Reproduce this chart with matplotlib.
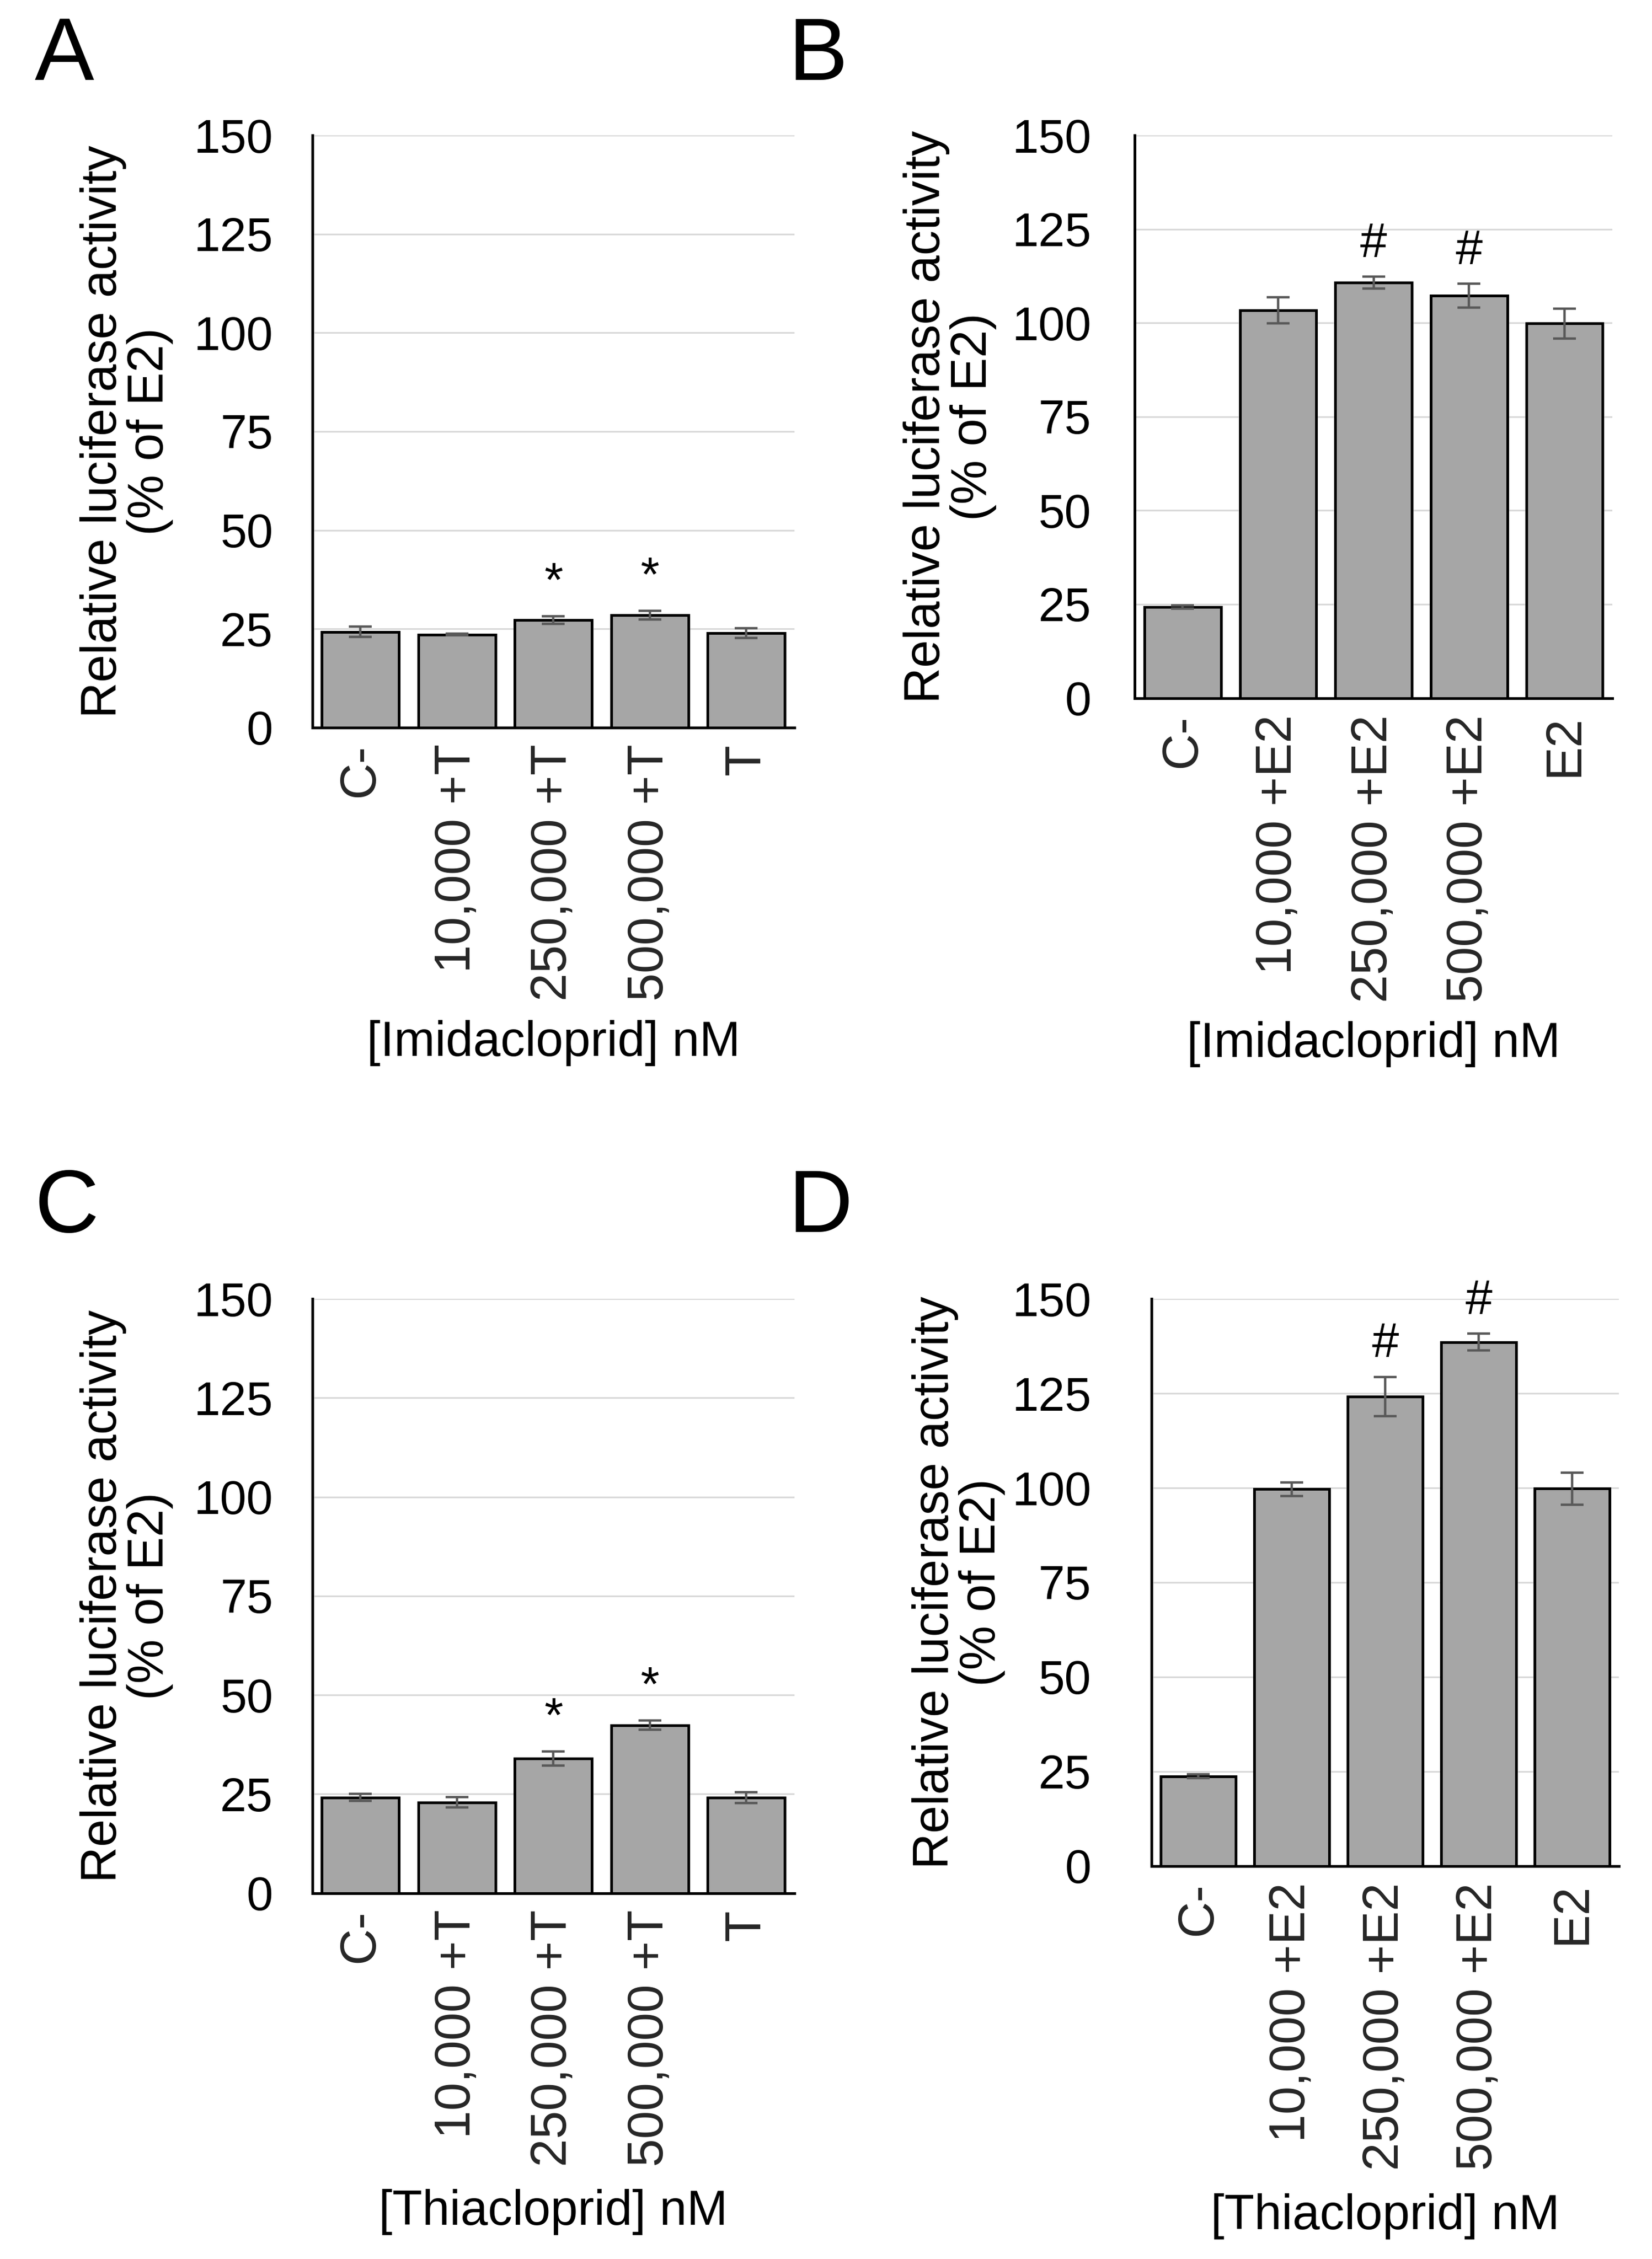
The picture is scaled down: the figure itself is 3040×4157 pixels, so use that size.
import numpy as np
import matplotlib
matplotlib.use("Agg")
import matplotlib.pyplot as plt

plt.rcParams['font.family'] = ['Liberation Sans', 'DejaVu Sans']

# data ----------------------------------
labels_T = ['C-', '10,000 +T', '250,000 +T', '500,000 +T', 'T']
labels_E2 = ['C-', '10,000 +E2', '250,000 +E2', '500,000 +E2', 'E2']

imi_T = [24.2, 23.5, 27.2, 28.5, 23.9]
imi_T_err = [1.3, 0.2, 1.0, 1.1, 1.3]
imi_T_marks = ['', '', '*', '*', '']

imi_E2 = [24.3, 103.4, 110.8, 107.3, 99.9]
imi_E2_err = [0.4, 3.5, 1.6, 3.2, 4.0]
imi_E2_marks = ['', '', '#', '#', '']

thia_T = [24.1, 22.9, 34.0, 42.4, 24.1]
thia_T_err = [0.9, 1.3, 1.8, 1.2, 1.4]
thia_T_marks = ['', '', '*', '*', '']

thia_E2 = [23.7, 99.7, 124.2, 138.6, 99.8]
thia_E2_err = [0.5, 1.8, 5.2, 2.2, 4.2]
thia_E2_marks = ['', '', '#', '#', '']

yticks = [0, 25, 50, 75, 100, 125, 150]

fig = plt.figure(figsize=(30.4, 41.57), dpi=100)


def panel(rect, vals, errs, marks, labels, xlabel, letter, letter_xy, ylab_x, xlab_y, ypad):
    ax = fig.add_axes(rect)
    x = np.arange(len(vals))
    ax.set_axisbelow(True)
    ax.yaxis.grid(True, color='#d9d9d9', linewidth=2.2)
    ax.bar(x, vals, width=0.8, color='#a6a6a6', edgecolor='black', linewidth=3.6, zorder=2)
    ax.errorbar(x, vals, yerr=errs, fmt='none', ecolor='#595959', elinewidth=3.2,
                capsize=15, capthick=3.2, zorder=3)
    for xi, v, e, m in zip(x, vals, errs, marks):
        if m:
            ax.text(xi, v + e + 2.5, m, ha='center', va='bottom', fontsize=64, color='black',
                    clip_on=False)
    ax.set_xlim(-0.5, len(vals) - 0.5)
    ax.set_ylim(0, 150)
    ax.set_yticks(yticks)
    ax.set_xticks(x)
    ax.set_xticklabels(labels, rotation=90, fontsize=67, color='#262626')
    ax.tick_params(axis='y', labelsize=63, length=0, pad=ypad)
    ax.tick_params(axis='x', length=0, pad=22)
    for s in ['top', 'right']:
        ax.spines[s].set_visible(False)
    for s in ['left', 'bottom']:
        ax.spines[s].set_linewidth(3.6)
        ax.spines[s].set_zorder(4)
    ax.set_ylabel('Relative luciferase activity\n(% of E2)', fontsize=66, va='center',
                  linespacing=1.0)
    ax.yaxis.set_label_coords(ylab_x, 0.5)
    ax.set_xlabel(xlabel, fontsize=65, va='center')
    ax.xaxis.set_label_coords(0.5, xlab_y)
    fig.text(letter_xy[0], letter_xy[1], letter, fontsize=118, ha='left', va='top')
    return ax


panel([0.189, 0.678, 0.292, 0.262], imi_T, imi_T_err, imi_T_marks, labels_T,
      '[Imidacloprid] nM', 'A', (0.021, 0.993), -0.385, -0.533, 52)
panel([0.687, 0.691, 0.289, 0.249], imi_E2, imi_E2_err, imi_E2_marks, labels_E2,
      '[Imidacloprid] nM', 'B', (0.477, 0.993), -0.388, -0.615, 58)
panel([0.189, 0.162, 0.292, 0.263], thia_T, thia_T_err, thia_T_marks, labels_T,
      '[Thiacloprid] nM', 'C', (0.021, 0.483), -0.385, -0.537, 52)
panel([0.697, 0.174, 0.283, 0.251], thia_E2, thia_E2_err, thia_E2_marks, labels_E2,
      '[Thiacloprid] nM', 'D', (0.477, 0.483), -0.413, -0.618, 80)

fig.savefig('out.png', dpi=100, facecolor='white')
